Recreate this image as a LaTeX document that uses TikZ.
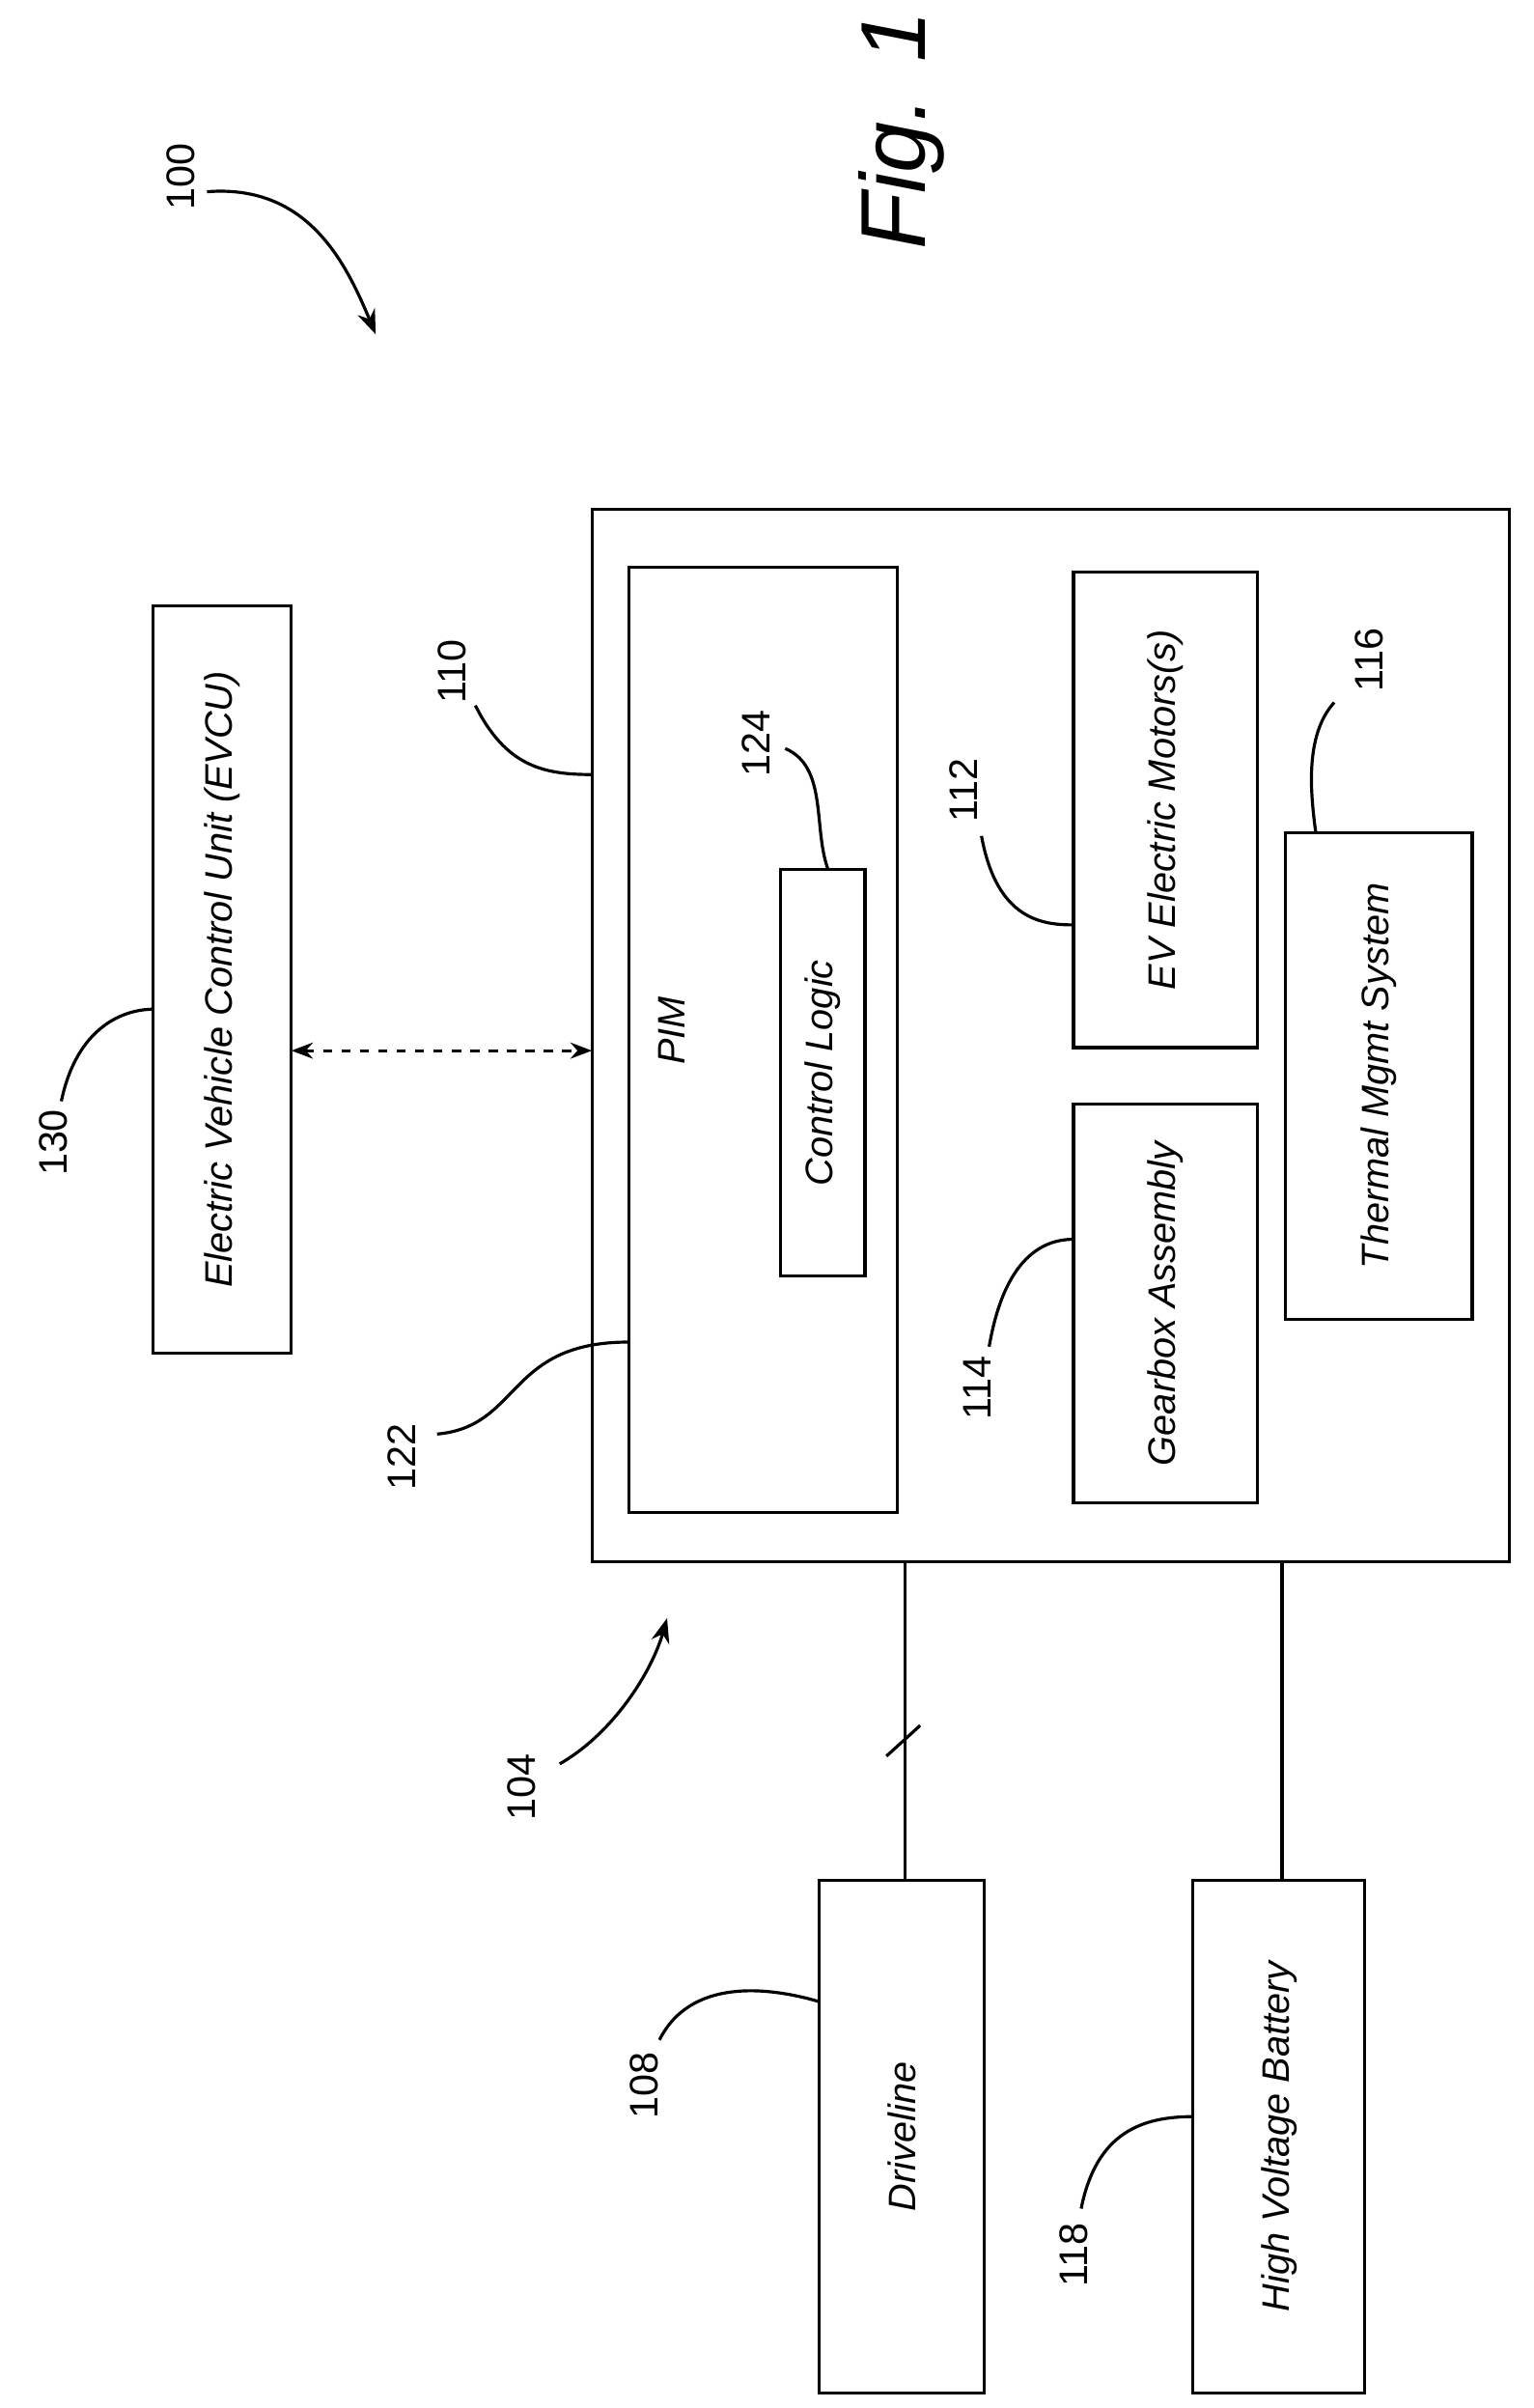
\documentclass[tikz,border=0pt]{standalone}
\usepackage{fontspec}
\setmainfont{Liberation Sans}
\usetikzlibrary{arrows.meta}
\begin{document}
\begin{tikzpicture}[x=0.5pt,y=-0.5pt,
  box/.style={draw,line width=1pt,inner sep=0pt},
  txt/.style={rotate=90,font=\itshape\fontsize{12.5}{14}\selectfont},
  num/.style={rotate=90,font=\fontsize{13}{15}\selectfont},
  lead/.style={line width=1pt},
  every path/.style={line width=1pt}]
\useasboundingbox (0,0) rectangle (1000,1570);
\fill[white] (0,0) rectangle (1000,1570);
% boxes
\node[box,minimum width=45pt,minimum height=243.5pt] (evcu) at (145,638.5) {};
\node[txt] at (evcu) {Electric Vehicle Control Unit (EVCU)};
\node[box,minimum width=299pt,minimum height=343pt] (mod) at (685,675) {};
\node[box,minimum width=87.5pt,minimum height=308pt] (pim) at (497.5,678) {};
\node[txt] at (438,672) {PIM};
\node[box,minimum width=27.5pt,minimum height=132.5pt] (cl) at (536.5,699.5) {};
\node[txt] at (cl) {Control Logic};
\node[box,minimum width=60pt,minimum height=155pt] (mot) at (760,528) {};
\node[txt] at (mot) {EV Electric Motors(s)};
\node[box,minimum width=60pt,minimum height=130pt] (gear) at (760,850) {};
\node[txt] at (gear) {Gearbox Assembly};
\node[box,minimum width=61pt,minimum height=158.5pt] (therm) at (899,701.5) {};
\node[txt] at (therm) {Thermal Mgmt System};
\node[box,minimum width=54pt,minimum height=167pt] (drive) at (588,1393) {};
\node[txt] at (drive) {Driveline};
\node[box,minimum width=56pt,minimum height=167pt] (bat) at (834,1393) {};
\node[txt] at (bat) {High Voltage Battery};
% connections
\coordinate (d1) at (590,1018); \coordinate (d2) at (590,1226);
\draw (d1) -- (d2);
\draw (578,1145) -- (600,1125);
\coordinate (b1) at (836,1018); \coordinate (b2) at (836,1226);
\draw (b1) -- (b2);
\coordinate (ea) at (190,685); \coordinate (eb) at (386,685);
\draw[dashed,{Stealth[length=7pt]}-{Stealth[length=7pt]}] (ea) -- (eb);
% title
\node[rotate=90,font=\itshape\fontsize{30}{34}\selectfont] (fig) at (588,85) {Fig. 1};
% reference numerals
\node[num] (n100) at (118,115) {100};
\draw[-{Stealth[length=8pt]}] (135,125) .. controls (200,120) and (225,170) .. (245,218);
\node[num] (n110) at (295,438) {110};
\draw (310,460) .. controls (330,500) and (355,505) .. (386,505);
\node[num] (n124) at (493,485) {124};
\draw (512,488) .. controls (540,500) and (530,540) .. (540,567);
\node[num] (n112) at (628,515) {112};
\draw (640,545) .. controls (650,600) and (680,603) .. (700,603);
\node[num] (n116) at (893,430) {116};
\draw (870,458) .. controls (850,480) and (855,520) .. (858,543);
\node[num] (n130) at (35,745) {130};
\draw (40,718) .. controls (50,670) and (80,658) .. (100,658);
\node[num] (n122) at (262,950) {122};
\draw (285,935) .. controls (340,930) and (330,875) .. (410,875);
\node[num] (n114) at (637,905) {114};
\draw (645,878) .. controls (655,820) and (680,808) .. (700,808);
\node[num] (n104) at (340,1165) {104};
\draw[-{Stealth[length=8pt]}] (365,1150) .. controls (400,1130) and (425,1090) .. (435,1055);
\node[num] (n108) at (420,1360) {108};
\draw (430,1330) .. controls (450,1290) and (500,1295) .. (534,1305);
\node[num] (n118) at (700,1470) {118};
\draw (705,1440) .. controls (715,1390) and (745,1380) .. (778,1380);
\end{tikzpicture}
\end{document}
